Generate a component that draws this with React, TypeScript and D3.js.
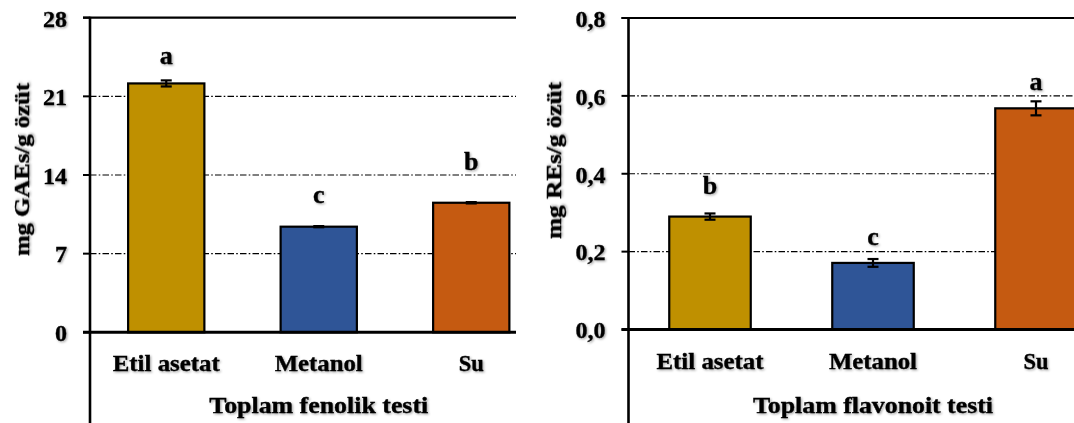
import React from "react";
import * as d3 from "d3";

// ---------- data ----------
const categories = ["Etil asetat", "Metanol", "Su"];
const barColors = ["#BF9000", "#2F5597", "#C55A11"];

const phenolicValues = [22.15, 9.4, 11.53];
const phenolicErrors = [0.27, 0.05, 0.06];
const phenolicLetters = ["a", "c", "b"];
const phenolicLetterAt = [23.87, 11.5, 14.44];
const phenolicTicks = [0, 7, 14, 21, 28];

const flavonoidValues = [0.29, 0.171, 0.568];
const flavonoidErrors = [0.008, 0.01, 0.018];
const flavonoidLetters = ["b", "c", "a"];
const flavonoidLetterAt = [0.349, 0.2165, 0.614];
const flavonoidTicks = [0, 0.2, 0.4, 0.6, 0.8];

const FONT = "'Liberation Serif', 'Times New Roman', serif";
const catWidths: Record<string, number> = { "Etil asetat": 107, Metanol: 88, Su: 25 };
const textStyle = { stroke: "#000", strokeWidth: 0.35, paintOrder: "stroke" } as React.CSSProperties;

type PanelProps = {
  values: number[];
  errors: number[];
  letters: string[];
  letterAt: number[];
  ticks: number[];
  fmt: (v: number) => string;
  x0: number;
  bandEnd: number;
  plotRight: number;
  yTop: number;
  yZero: number;
  yTitle: string;
  yTitleX: number;
  yTitleY: number;
  yTitleLen: number;
  xTitle: string;
  xTitleLen: number;
};

function Panel(p: PanelProps) {
  const x = d3.scaleBand<string>().domain(categories).range([p.x0, p.bandEnd]).paddingInner(0.5).paddingOuter(0.25);
  const top = p.ticks[p.ticks.length - 1];
  const y = d3.scaleLinear().domain([0, top]).range([p.yZero, p.yTop]);
  const bw = x.bandwidth();
  const mid = (x(categories[1]) ?? 0) + bw / 2;
  return (
    <g>
      {p.ticks.slice(1, -1).map((t) => (
        <line key={"g" + t} x1={p.x0} x2={p.plotRight} y1={y(t)} y2={y(t)} stroke="#000" strokeWidth={1.1} strokeDasharray="6.5 2.2 1.6 2.2" />
      ))}
      <line x1={p.x0 - 7} x2={p.plotRight} y1={y(top)} y2={y(top)} stroke="#000" strokeWidth={2.2} />
      {p.ticks.map((t) => (
        <line key={"t" + t} x1={p.x0 - 7} x2={p.x0} y1={y(t)} y2={y(t)} stroke="#000" strokeWidth={2} />
      ))}
      {p.ticks.map((t) => (
        <text key={"l" + t} x={p.x0 - 23} y={y(t) + 8.8} textAnchor="end" fontFamily={FONT} fontWeight="bold" fontSize={24} style={textStyle} filter="url(#shadow)">
          {p.fmt(t)}
        </text>
      ))}
      {categories.map((c, i) => (
        <rect key={"b" + c} x={x(c)} y={y(p.values[i])} width={bw} height={y(0) - y(p.values[i])} fill={barColors[i]} stroke="#000" strokeWidth={2.2} />
      ))}
      {categories.map((c, i) => {
        const cx = (x(c) ?? 0) + bw / 2;
        const hi = y(p.values[i] + p.errors[i]);
        const lo = y(p.values[i] - p.errors[i]);
        return (
          <g key={"e" + c} stroke="#000" strokeWidth={2.2}>
            <line x1={cx} x2={cx} y1={hi} y2={lo} />
            <line x1={cx - 5.5} x2={cx + 5.5} y1={hi} y2={hi} />
            <line x1={cx - 5.5} x2={cx + 5.5} y1={lo} y2={lo} />
          </g>
        );
      })}
      {categories.map((c, i) => (
        <text key={"s" + c} x={(x(c) ?? 0) + bw / 2} y={y(p.letterAt[i])} textAnchor="middle" fontFamily={FONT} fontWeight="bold" fontSize={26} style={textStyle} filter="url(#shadow)">
          {p.letters[i]}
        </text>
      ))}
      <line x1={p.x0 - 7} x2={p.plotRight} y1={y(0)} y2={y(0)} stroke="#000" strokeWidth={3} />
      <line x1={p.x0} x2={p.x0} y1={y(top) - 1} y2={423} stroke="#000" strokeWidth={2.6} />
      {categories.map((c) => (
        <text key={"c" + c} x={(x(c) ?? 0) + bw / 2} y={y(0) + 39} textAnchor="middle" fontFamily={FONT} fontWeight="bold" fontSize={23.5} textLength={catWidths[c]} lengthAdjust="spacingAndGlyphs" style={textStyle} filter="url(#shadow)">
          {c}
        </text>
      ))}
      <text x={mid} y={413} textAnchor="middle" fontFamily={FONT} fontWeight="bold" fontSize={23.5} textLength={p.xTitleLen} lengthAdjust="spacingAndGlyphs" style={textStyle} filter="url(#shadow)">
        {p.xTitle}
      </text>
      <text transform={`translate(${p.yTitleX},${p.yTitleY}) rotate(-90)`} textAnchor="middle" fontFamily={FONT} fontWeight="bold" fontSize={22} textLength={p.yTitleLen} lengthAdjust="spacingAndGlyphs" style={textStyle} filter="url(#shadow)">
        {p.yTitle}
      </text>
    </g>
  );
}

export default function App() {
  const fmtInt = (v: number) => d3.format("d")(v);
  const fmtComma = (v: number) => d3.format(".1f")(v).replace(".", ",");
  return (
    <svg width={1074} height={423} style={{ position: "absolute", left: 0, top: 0, background: "#fff" }}>
      <defs>
        <filter id="shadow" x="-10%" y="-30%" width="130%" height="170%">
          <feDropShadow dx={1.2} dy={1.2} stdDeviation={0.9} floodColor="#000" floodOpacity={0.35} />
        </filter>
      </defs>
      <rect width={1074} height={423} fill="#fff" />
      <Panel
        values={phenolicValues}
        errors={phenolicErrors}
        letters={phenolicLetters}
        letterAt={phenolicLetterAt}
        ticks={phenolicTicks}
        fmt={fmtInt}
        x0={90}
        bandEnd={547.5}
        plotRight={516}
        yTop={17.7}
        yZero={332.3}
        yTitle="mg GAEs/g özüt"
        yTitleX={29}
        yTitleY={169.5}
        yTitleLen={173}
        xTitle="Toplam fenolik testi"
        xTitleLen={219}
      />
      <Panel
        values={flavonoidValues}
        errors={flavonoidErrors}
        letters={flavonoidLetters}
        letterAt={flavonoidLetterAt}
        ticks={flavonoidTicks}
        fmt={fmtComma}
        x0={628.5}
        bandEnd={1117.5}
        plotRight={1120}
        yTop={18}
        yZero={329.5}
        yTitle="mg REs/g özüt"
        yTitleX={561}
        yTitleY={160.5}
        yTitleLen={157}
        xTitle="Toplam flavonoit testi"
        xTitleLen={240}
      />
    </svg>
  );
}
